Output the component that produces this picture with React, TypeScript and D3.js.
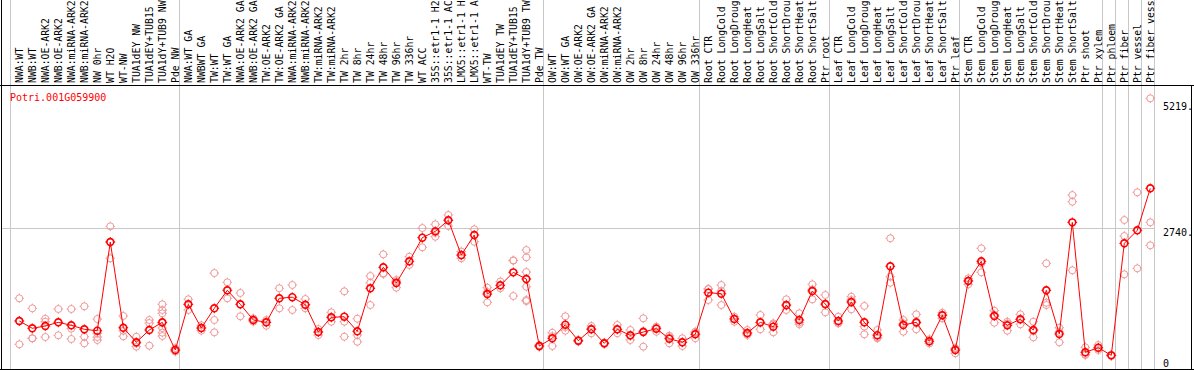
import React from "react";
import * as d3 from "d3";

const categories: string[] = [
  "NWA:WT", "NWB:WT", "NWA:OE-ARK2", "NWB:OE-ARK2", "NWA:miRNA-ARK2", "NWB:miRNA-ARK2",
  "NW 0hr", "WT H2O", "WT-NW", "TUA1dEY NW", "TUA1dEY+TUB15", "TUA1dY+TUB9 NW", "Pde NW",
  "NWA:WT GA", "NWBWT GA", "TW:WT", "TW:WT GA", "NWA:OE-ARK2 GA", "NWB:OE-ARK2 GA",
  "TW:OE-ARK2", "TW:OE-ARK2 GA", "NWA:miRNA-ARK2", "NWB:miRNA-ARK2", "TW:miRNA-ARK2",
  "TW:miRNA-ARK2", "TW 2hr", "TW 8hr", "TW 24hr", "TW 48hr", "TW 96hr", "TW 336hr",
  "WT ACC", "35S::etr1-1 H2", "35S::etr1-1 AC", "LMX5::etr1-1 H", "LMX5::etr1-1 A",
  "WT-TW", "TUA1dEY TW", "TUA1dEY+TUB15", "TUA1dY+TUB9 TW", "Pde TW",
  "OW:WT", "OW:WT GA", "OW:OE-ARK2", "OW:OE-ARK2 GA", "OW:miRNA-ARK2", "OW:miRNA-ARK2",
  "OW 2hr", "OW 8hr", "OW 24hr", "OW 48hr", "OW 96hr", "OW 336hr",
  "Root CTR", "Root LongCold", "Root LongDroug", "Root LongHeat", "Root LongSalt",
  "Root ShortCold", "Root ShortDrou", "Root ShortHeat", "Root ShortSalt", "Ptr root",
  "Leaf CTR", "Leaf LongCold", "Leaf LongDroug", "Leaf LongHeat", "Leaf LongSalt",
  "Leaf ShortCold", "Leaf ShortDrou", "Leaf ShortHeat", "Leaf ShortSalt", "Ptr leaf",
  "Stem CTR", "Stem LongCold", "Stem LongDroug", "Stem LongHeat", "Stem LongSalt",
  "Stem ShortCold", "Stem ShortDrou", "Stem ShortHeat", "Stem ShortSalt",
  "Ptr shoot", "Ptr xylem", "Ptr phloem", "Ptr fiber", "Ptr vessel", "Ptr fiber vess",
];

const meanValues: number[] = [
  906, 762, 807, 880, 821, 742, 714, 2469, 773, 485, 728, 880, 332,
  1236, 767, 1157, 1513, 1236, 926, 880, 1355, 1377, 1228, 688, 979,
  991, 702, 1553, 1968, 1658, 2087, 2554, 2680, 2898, 2211, 2607,
  1440, 1612, 1869, 1737, 411,
  564, 833, 516, 742, 465, 742, 623, 688, 754, 556, 485, 643,
  1466, 1446, 945, 669, 880, 793, 1222, 926, 1499, 1242,
  906, 1282, 880, 625, 1988, 827, 880, 504, 1019, 332,
  1697, 2087, 1005, 821, 940, 728, 1513, 649, 2858,
  287, 378, 227, 2443, 2700, 3531,
];

const replicateValues: number[][] = [
  [1355, 906, 445], [1157, 564, 564], [951, 892, 589], [1143, 623], [1143, 754, 550],
  [1197, 595, 465], [945, 663, 589, 530], [2779, 2469, 2146], [1005, 711, 603],
  [595, 462, 398], [926, 866, 417], [1236, 1124, 1058, 866, 767, 675, 609], [370, 332, 300],
  [1335, 1236, 1124], [821, 767, 714], [1855, 926, 682], [1671, 1355], [1460, 1236, 999],
  [959, 926, 892], [926, 880, 813], [1553, 1157], [1618, 1124], [1341, 1228, 1157],
  [746, 688, 629], [1078, 979, 892], [1493, 892, 595], [951, 629, 496],
  [1796, 1663, 1222], [2225, 1850, 1836], [1717, 1690, 1565], [2178, 2014],
  [2745, 2364], [2819, 2650, 2573], [3003, 2905, 2785], [2280, 2200, 2146],
  [2720, 2474], [1565, 1480, 1276], [1687, 1553], [2107, 2100, 1400],
  [2310, 2166, 1875, 1584, 1321, 1300], [430, 411, 395],
  [674, 607, 411], [999, 786, 714], [530, 516, 500], [807, 757, 663], [480, 465, 450],
  [827, 736, 663], [728, 611, 530], [959, 707, 398], [793, 775, 694], [615, 588, 465],
  [564, 480, 411], [694, 670, 564],
  [1539, 1538, 1321], [1618, 1500, 1222], [991, 952, 892], [728, 650, 629],
  [1025, 873, 742], [860, 837, 682], [1335, 1207, 1124], [1058, 879, 841],
  [1632, 1530, 1335], [1420, 1228, 1078],
  [991, 867, 860], [1387, 1322, 1137], [1203, 794, 643], [728, 583, 564],
  [2542, 1782, 1663], [926, 861, 694], [1038, 860, 742], [544, 504, 464],
  [1070, 1028, 959], [366, 363, 267],
  [1750, 1710, 1632], [2344, 2048, 1869], [1110, 1032, 872], [892, 857, 714],
  [1038, 941, 841], [892, 709, 583], [2047, 1268, 1222], [773, 689, 485],
  [3398, 3266, 1909],
  [386, 243, 233], [431, 371, 332], [240, 227, 215], [2904, 2587, 1830],
  [3452, 1948], [5311, 2858, 2403],
];

const groupStarts: number[] = [0, 13, 41, 53, 63, 73, 84, 85, 86, 87];
const tickValues: number[] = [0, 2740, 5219];
const tickLabels: string[] = ["0", "2740.", "5219."];
const geneName = "Potri.001G059900";

const W = 1194;
const H = 370;
const FONT = "'DejaVu Sans Mono', 'Liberation Mono', monospace";

export default function App() {
  const n = categories.length;
  const x = d3
    .scaleBand<number>()
    .domain(d3.range(n))
    .range([11, 1155])
    .paddingInner(0)
    .paddingOuter(0);
  const px = (i: number) => (x(i) as number) + 8.3;
  const y = d3.scaleLinear().domain([0, 2740]).range([366.8, 228.3]);

  const line = d3
    .line<number>()
    .x((_, i) => px(i))
    .y((d) => y(d));

  const sepXs = [...groupStarts.map((k) => x(k) as number), 1155];

  const tickY = (v: number) => {
    if (v === 0) return y(v) - 0.3;
    return y(v) + 7.4;
  };

  const tickMarks = (cx: number, cy: number, r: number) =>
    `M${cx},${cy - r - 1.3}V${cy - r + 0.3}M${cx},${cy + r - 0.3}V${cy + r + 1.3}M${cx - r - 1.3},${cy}H${cx - r + 0.3}M${cx + r - 0.3},${cy}H${cx + r + 1.3}`;

  return (
    <div style={{ position: "absolute", left: 0, top: 0, width: W, height: H }}>
      <svg width={W} height={H} style={{ display: "block", background: "#fff" }}>
        {/* grid */}
        {sepXs.map((sx, i) => (
          <line
            key={"s" + i}
            x1={Math.round(sx) - 0.5}
            x2={Math.round(sx) - 0.5}
            y1={0}
            y2={369}
            stroke="#c8c8c8"
            strokeWidth={1}
          />
        ))}
        <line
          x1={1}
          x2={1155}
          y1={Math.round(y(2740)) + 0.5}
          y2={Math.round(y(2740)) + 0.5}
          stroke="#c8c8c8"
          strokeWidth={1}
        />
        {/* frame */}
        <line x1={0} x2={W} y1={85.5} y2={85.5} stroke="#000" strokeWidth={1} />
        <line x1={0} x2={W} y1={369.5} y2={369.5} stroke="#000" strokeWidth={1} />
        <line x1={1.5} x2={1.5} y1={0} y2={370} stroke="#000" strokeWidth={1} />
        <line x1={1191.5} x2={1191.5} y1={85} y2={370} stroke="#000" strokeWidth={1} />

        {/* column labels */}
        {categories.map((c, i) => (
          <text
            key={"l" + i}
            transform={`translate(${px(i) + 3.6},83) rotate(-90)`}
            fontFamily={FONT}
            fontSize={9.8}
            fill="#000"
          >
            {c}
          </text>
        ))}

        {/* gene name */}
        <text x={10} y={101} fontFamily={FONT} fontSize={10} fill="#ff0000">
          {geneName}
        </text>

        {/* replicate points */}
        {replicateValues.map((reps, i) =>
          reps.map((v, j) => {
            const cx = px(i);
            const cy = y(v);
            return (
              <g key={`r${i}-${j}`} stroke="#f09a9a" fill="none" strokeWidth={1}>
                <circle cx={cx} cy={cy} r={3.5} />
                <path d={tickMarks(cx, cy, 3.5)} />
              </g>
            );
          })
        )}

        {/* mean line */}
        <path d={line(meanValues) || ""} fill="none" stroke="#ff0000" strokeWidth={1} />

        {/* mean points */}
        {meanValues.map((v, i) => {
          const cx = px(i);
          const cy = y(v);
          return (
            <g key={"m" + i} stroke="#ff0000" fill="none">
              <circle cx={cx} cy={cy} r={3.4} strokeWidth={1.6} />
              <path d={tickMarks(cx, cy, 3.6)} strokeWidth={1} />
            </g>
          );
        })}

        {/* y tick labels */}
        {tickValues.map((v, i) => (
          <text
            key={"t" + i}
            x={1163}
            y={tickY(v)}
            fontFamily={FONT}
            fontSize={10}
            fill="#000"
          >
            {tickLabels[i]}
          </text>
        ))}
      </svg>
    </div>
  );
}
